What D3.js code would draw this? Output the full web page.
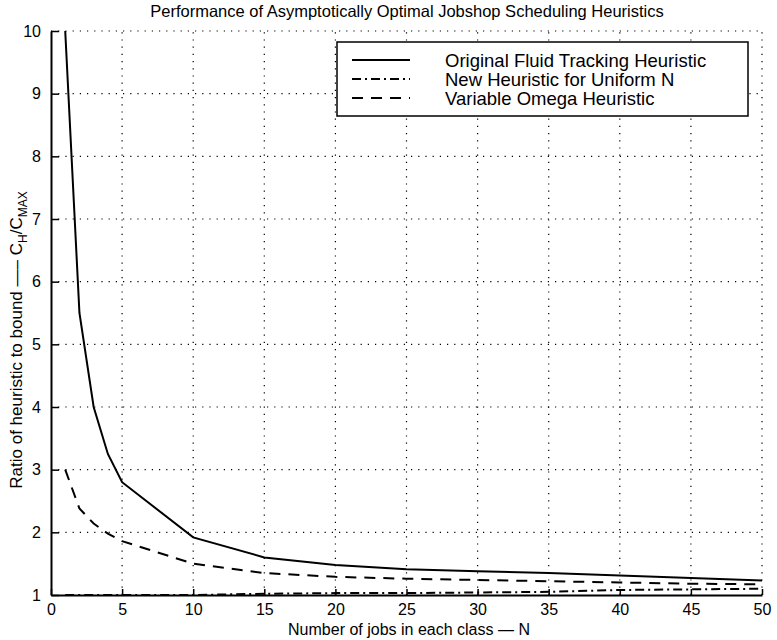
<html lang="en"><head>
<meta http-equiv="Content-Type" content="text/html; charset=UTF-8">
<title>Jobshop heuristics</title>
<script type="text/javascript" src="https://cdn.jsdelivr.net/npm/d3@7"></script>
<style type="text/css">
body { margin: 0; background: #fff; }
text { font-family: "Liberation Sans", Arial, sans-serif; fill: #000; }
</style>
</head>
<body>
<script type="text/javascript">

var width = 777;
var height = 640;

// data
var jobs = [1, 2, 3, 4, 5, 10, 15, 20, 25, 30, 35, 40, 45, 50];
var fluidTracking = [10, 5.5, 4.0, 3.25, 2.8, 1.92, 1.6, 1.48, 1.41, 1.38, 1.35, 1.31, 1.27, 1.23];
var uniformN = [1.0, 1.0, 1.0, 1.0, 1.0, 1.0, 1.02, 1.03, 1.03, 1.04, 1.05, 1.08, 1.09, 1.1];
var variableOmega = [3.0, 2.38, 2.14, 1.98, 1.86, 1.5, 1.35, 1.29, 1.26, 1.24, 1.22, 1.2, 1.18, 1.17];
var xTicks = [0, 5, 10, 15, 20, 25, 30, 35, 40, 45, 50];
var yTicks = [1, 2, 3, 4, 5, 6, 7, 8, 9, 10];
var seriesNames = ["Original Fluid Tracking Heuristic", "New Heuristic for Uniform N", "Variable Omega Heuristic"];
var seriesDash = ["none", "9,4,2,4", "11,8"];

var series = [fluidTracking, uniformN, variableOmega];

var margin = {left: 51, right: 15, top: 31, bottom: 45};

var x = d3.scaleLinear().domain([0, 50]).range([margin.left, width - margin.right]);
var y = d3.scaleLinear().domain([1, 10]).range([height - margin.bottom, margin.top]);

var svg = d3.select("body").append("svg")
  .attr("width", width)
  .attr("height", height);

// grid
svg.append("g").selectAll("line")
  .data(xTicks.slice(1)).enter().append("line")
  .attr("x1", function(d){ return x(d); })
  .attr("x2", function(d){ return x(d); })
  .attr("y1", y(1)).attr("y2", y(10))
  .attr("stroke", "#000").attr("stroke-width", 1.2)
  .attr("stroke-dasharray", "1.2,6");

svg.append("g").selectAll("line")
  .data(yTicks.slice(1)).enter().append("line")
  .attr("y1", function(d){ return y(d); })
  .attr("y2", function(d){ return y(d); })
  .attr("x1", x(0)).attr("x2", x(50))
  .attr("stroke", "#000").attr("stroke-width", 1.2)
  .attr("stroke-dasharray", "1.2,6");

// axes, ticks pointing inward
var xAxis = svg.append("g")
  .attr("transform", "translate(0," + y(1) + ")")
  .call(d3.axisBottom(x).tickValues(xTicks).tickSizeInner(-6).tickSizeOuter(0).tickPadding(9));

var yAxis = svg.append("g")
  .attr("transform", "translate(" + x(0) + ",0)")
  .call(d3.axisLeft(y).tickValues(yTicks).tickSizeInner(-8).tickSizeOuter(0).tickPadding(10));

[xAxis, yAxis].forEach(function(a){
  a.select(".domain").attr("stroke", "#000").attr("stroke-width", 2);
  a.selectAll(".tick line").attr("stroke", "#000").attr("stroke-width", 1.5);
  a.selectAll(".tick text").attr("font-size", 16).attr("font-family", "Liberation Sans, Arial, sans-serif");
});

// lines
var line = d3.line()
  .x(function(d, i){ return x(jobs[i]); })
  .y(function(d){ return y(d); });

svg.append("g").selectAll("path")
  .data(series).enter().append("path")
  .attr("d", function(d){ return line(d); })
  .attr("fill", "none")
  .attr("stroke", "#000")
  .attr("stroke-width", 2)
  .attr("stroke-dasharray", function(d, i){ return seriesDash[i]; });

// legend
var legend = svg.append("g");
legend.append("rect")
  .attr("x", 337).attr("y", 42)
  .attr("width", 411).attr("height", 74)
  .attr("fill", "#fff").attr("stroke", "#000").attr("stroke-width", 1.5);

var rows = legend.selectAll(".row")
  .data(seriesNames).enter().append("g")
  .attr("class", "row")
  .attr("transform", function(d, i){ return "translate(0," + (60 + i * 19) + ")"; });

rows.append("line")
  .attr("x1", 352).attr("x2", 410)
  .attr("y1", 0).attr("y2", 0)
  .attr("stroke", "#000").attr("stroke-width", 2)
  .attr("stroke-dasharray", function(d, i){ return seriesDash[i]; });

rows.append("text")
  .attr("x", 445).attr("y", 6.5)
  .attr("font-size", 18.5)
  .text(function(d){ return d; });

// title and axis labels
svg.append("text")
  .attr("x", 407).attr("y", 17)
  .attr("text-anchor", "middle")
  .attr("font-size", 16.5)
  .text("Performance of Asymptotically Optimal Jobshop Scheduling Heuristics");

svg.append("text")
  .attr("x", 409).attr("y", 635)
  .attr("text-anchor", "middle")
  .attr("font-size", 16)
  .text("Number of jobs in each class — N");

var ylab = svg.append("text")
  .attr("transform", "translate(22,340) rotate(-90)")
  .attr("text-anchor", "middle")
  .attr("font-size", 17);
ylab.append("tspan").text("Ratio of heuristic to bound —– C");
ylab.append("tspan").attr("font-size", 12).attr("dy", 5).text("H");
ylab.append("tspan").attr("dy", -5).text("/C");
ylab.append("tspan").attr("font-size", 12).attr("dy", 5).text("MAX");

</script>
</body></html>
